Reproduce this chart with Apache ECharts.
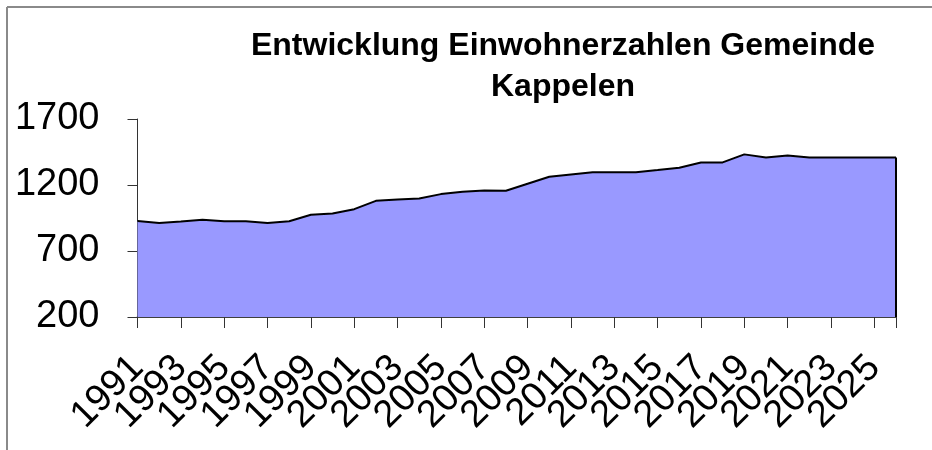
<!DOCTYPE html>
<html><head><meta charset="utf-8">
<script src="https://cdn.jsdelivr.net/npm/echarts@6/dist/echarts.min.js"></script>
<style>html,body{margin:0;padding:0;background:#fff}#c{width:932px;height:450px}</style>
</head><body><div id="c"></div>
<script>
const years = ['1991','1992','1993','1994','1995','1996','1997','1998','1999','2000','2001','2002','2003','2004','2005','2006','2007','2008','2009','2010','2011','2012','2013','2014','2015','2016','2017','2018','2019','2020','2021','2022','2023','2024','2025','2026'];
const population = [928,913,924,936,926,926,913,926,974,984,1017,1080,1091,1098,1131,1149,1159,1156,1210,1262,1280,1296,1296,1296,1313,1331,1371,1371,1432,1409,1424,1409,1409,1409,1409,1409];
const yTicks = [200, 700, 1200, 1700];
const titleLines = ['Entwicklung Einwohnerzahlen Gemeinde', 'Kappelen'];

const chart = echarts.init(document.getElementById('c'), null, {renderer: 'canvas'});
chart.setOption({
  animation: false,
  backgroundColor: '#ffffff',
  title: {
    text: titleLines.join('\n'),
    left: 558, top: 21, textAlign: 'center',
    textStyle: {fontFamily: 'Liberation Sans', fontWeight: 'bold', fontSize: 32, color: '#000', lineHeight: 41}
  },
  graphic: [
    {type: 'line', shape: {x1: 7, y1: 7, x2: 932, y2: 7}, style: {stroke: '#8a8a8a', lineWidth: 2}},
    {type: 'line', shape: {x1: 7, y1: 7, x2: 7, y2: 450}, style: {stroke: '#8a8a8a', lineWidth: 2}}
  ],
  grid: {left: 137.5, right: 36, top: 119, bottom: 133},
  xAxis: {
    type: 'category', data: years, boundaryGap: false,
    axisLine: {lineStyle: {color: '#000', width: 1.5}},
    axisTick: {show: true, interval: 1, length: 11, lineStyle: {color: '#333', width: 1}},
    axisLabel: {interval: 0, rotate: 45, margin: 45, hideOverlap: false,
      formatter: (v, i) => (i % 2 === 0 ? v : ''),
      fontFamily: 'Liberation Sans', fontSize: 38, color: '#000'}
  },
  yAxis: {
    type: 'value', min: yTicks[0], max: yTicks[yTicks.length - 1], interval: 500,
    axisLine: {show: true, lineStyle: {color: '#333', width: 1}},
    axisTick: {show: true, length: 10, lineStyle: {color: '#333'}},
    splitLine: {show: false},
    axisLabel: {margin: 38, fontFamily: 'Liberation Sans', fontSize: 38, color: '#000', formatter: v => yTicks.includes(v) ? String(v) : ''}
  },
  series: [{
    type: 'line', data: population, symbol: 'none',
    lineStyle: {color: '#000', width: 2},
    areaStyle: {color: '#9999ff', opacity: 1},
    markLine: {
      silent: true, symbol: 'none', label: {show: false},
      lineStyle: {color: '#000', width: 2, type: 'solid'},
      data: [[{coord: [years[years.length - 1], yTicks[0]]}, {coord: [years[years.length - 1], population[population.length - 1]]}]]
    }
  }]
});
</script></body></html>
